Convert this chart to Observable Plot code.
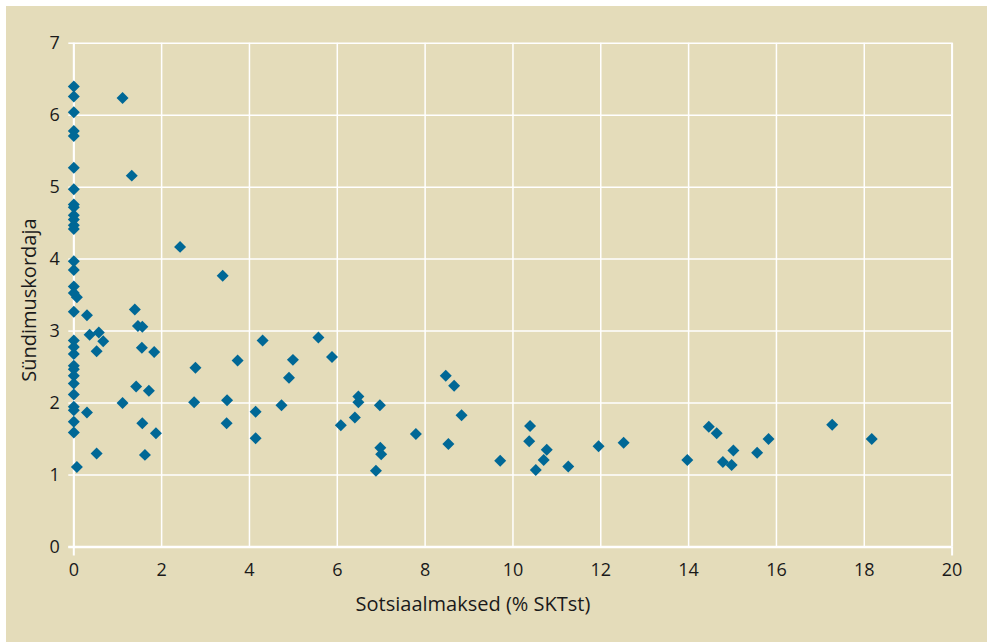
<!DOCTYPE html>
<html>
<head>
<meta charset="utf-8">
<script src="https://cdn.jsdelivr.net/npm/d3@7"></script>
<script src="https://cdn.jsdelivr.net/npm/@observablehq/plot@0.6"></script>
<style>
  html, body { margin: 0; padding: 0; background: #ffffff; }
  #panel { position: absolute; left: 6px; top: 6px; width: 981px; height: 636px; background: #e4dcba; }
  #chart { position: absolute; left: 0; top: 0; }
  #chart svg { background: transparent; }
</style>
</head>
<body>
<div id="panel"></div>
<div id="chart"></div>
<script>
// Sotsiaalmaksed (% SKTst) vs Sündimuskordaja
const socialPayments = [
  0, 0, 0, 0, 0, 0, 0, 0, 0, 0, 0, 0, 0,
  0, 0, 0, 0, 0.07, 0, 0, 0, 0, 0, 0, 0, 0, 0, 0, 0, 0, 0, 0.07,
  0.30, 0.36, 0.57, 0.67, 0.52, 0.30, 0.52,
  1.11, 1.32,
  1.39, 1.46, 1.56, 1.55, 1.83, 1.42, 1.71, 1.11, 1.56, 1.87, 1.62,
  2.42, 3.39, 2.77, 3.73, 4.30, 5.57, 5.88, 4.99, 4.90, 2.74, 3.49, 4.14, 4.73, 3.48, 4.14, 6.08,
  6.48, 6.48, 6.97, 6.40, 7.79, 6.98, 7.00, 6.88, 8.47, 8.66, 8.83, 8.53, 9.71,
  10.39, 10.37, 10.77, 10.70, 10.52, 11.26, 11.95, 12.52, 13.97, 14.46, 14.64, 15.02, 14.78, 14.98,
  15.56, 15.82, 17.27, 18.17
];
const fertilityRate = [
  6.40, 6.26, 6.04, 5.78, 5.71, 5.27, 4.97, 4.76, 4.72, 4.61, 4.55, 4.47, 4.42,
  3.97, 3.85, 3.62, 3.53, 3.47, 3.27, 2.87, 2.78, 2.68, 2.52, 2.47, 2.38, 2.27, 2.12, 1.95, 1.90, 1.74, 1.59, 1.11,
  3.22, 2.95, 2.98, 2.86, 2.72, 1.87, 1.30,
  6.24, 5.16,
  3.30, 3.07, 3.06, 2.77, 2.71, 2.23, 2.17, 2.00, 1.72, 1.58, 1.28,
  4.17, 3.77, 2.49, 2.59, 2.87, 2.91, 2.64, 2.60, 2.35, 2.01, 2.04, 1.88, 1.97, 1.72, 1.51, 1.69,
  2.09, 2.01, 1.97, 1.80, 1.57, 1.38, 1.29, 1.06, 2.38, 2.24, 1.83, 1.43, 1.20,
  1.68, 1.47, 1.35, 1.21, 1.07, 1.12, 1.40, 1.45, 1.21, 1.67, 1.58, 1.34, 1.18, 1.14,
  1.31, 1.50, 1.70, 1.50
];
const xTicks = [0, 2, 4, 6, 8, 10, 12, 14, 16, 18, 20];
const yTicks = [0, 1, 2, 3, 4, 5, 6, 7];
const xTitle = "Sotsiaalmaksed (% SKTst)";
const yTitle = "Sündimuskordaja";

const data = socialPayments.map((x, i) => ({x, y: fertilityRate[i]}));

const gridColor = "#ffffff";
const textColor = "#1a1a1a";
const dotColor = "#006896";

const chart = Plot.plot({
  width: 987,
  height: 642,
  marginLeft: 73.3,
  marginRight: 35.4,
  marginTop: 42.7,
  marginBottom: 95.5,
  style: {background: "transparent", fontFamily: "'Open Sans', sans-serif", fontSize: "18px", color: textColor},
  x: {domain: [0, 20]},
  y: {domain: [0, 7]},
  marks: [
    Plot.gridX(xTicks, {stroke: gridColor, strokeOpacity: 1, strokeWidth: 1.5}),
    Plot.gridY(yTicks, {stroke: gridColor, strokeOpacity: 1, strokeWidth: 1.5}),
    Plot.axisY(yTicks, {tickSize: 5, stroke: gridColor, strokeWidth: 1.5, tickFormat: () => "", label: null}),
    Plot.axisY(yTicks, {tickSize: 0, tickPadding: 14, label: null, fill: textColor, fontSize: 18, tickFormat: d => String(d)}),
    Plot.ruleY([0], {stroke: gridColor, strokeWidth: 2.5, insetLeft: -5}),
    Plot.ruleX([0], {stroke: gridColor, strokeWidth: 2}),
    Plot.ruleX([20], {stroke: gridColor, strokeWidth: 2}),
    Plot.axisX([0, 20], {tickSize: 9, stroke: gridColor, strokeWidth: 2, tickFormat: () => "", label: null}),
    Plot.axisX(xTicks, {tickSize: 0, tickPadding: 16, label: null, fill: textColor, fontSize: 18, tickFormat: d => String(d)}),
    Plot.dot(data, {x: "x", y: "y", symbol: "diamond2", r: 5.4, fill: dotColor, stroke: "none"}),
    Plot.text([xTitle], {frameAnchor: "bottom", dy: 50, dx: -40, lineAnchor: "top", textAnchor: "middle", fontSize: 20, fill: textColor}),
    Plot.text([yTitle], {frameAnchor: "left", dx: -44, dy: 5, rotate: -90, textAnchor: "middle", fontSize: 20, fill: textColor})
  ]
});
document.getElementById("chart").appendChild(chart);
</script>
</body>
</html>
